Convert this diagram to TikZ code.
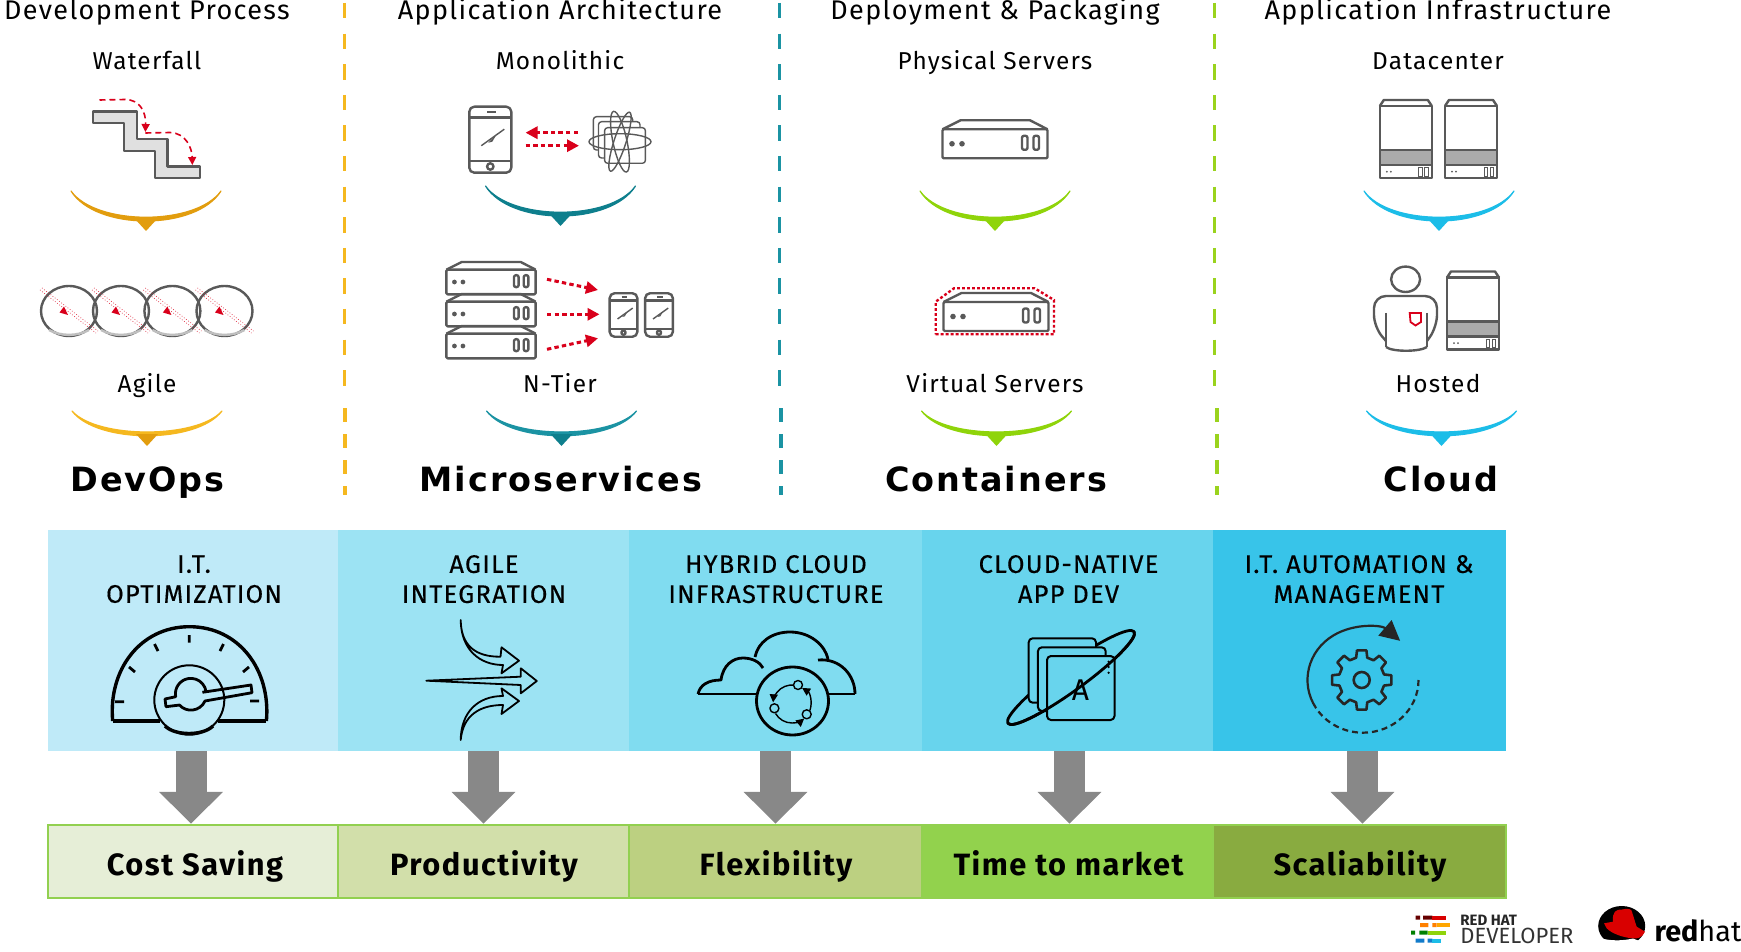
\documentclass[tikz,border=0pt]{standalone}
\usepackage{fontspec}
\usetikzlibrary{arrows.meta}
\setmainfont{Fira Sans}
\newfontfamily\headfont[LetterSpace=5]{Fira Sans}
\newfontfamily\bandfont[LetterSpace=5,FakeBold=0.4]{Fira Sans}
\newfontfamily\widefont[LetterSpace=6]{DejaVu Sans}
\definecolor{orangeA}{HTML}{F5B81F}
\definecolor{orangeB}{HTML}{E29D0E}
\definecolor{tealA}{HTML}{0E7F8D}
\definecolor{tealB}{HTML}{1B93A3}
\definecolor{limeA}{HTML}{8FD40A}
\definecolor{limeB}{HTML}{9AD31D}
\definecolor{skyA}{HTML}{1CBDE8}
\definecolor{bandA}{HTML}{BFEAF8}
\definecolor{bandB}{HTML}{9CE3F3}
\definecolor{bandC}{HTML}{80DCF0}
\definecolor{bandD}{HTML}{68D4ED}
\definecolor{bandE}{HTML}{38C4E9}
\definecolor{gainA}{HTML}{E6EED7}
\definecolor{gainB}{HTML}{D2DFAA}
\definecolor{gainC}{HTML}{BCD081}
\definecolor{gainD}{HTML}{92D24D}
\definecolor{gainE}{HTML}{89AB40}
\definecolor{gainline}{HTML}{92D050}
\definecolor{icongray}{HTML}{595959}
\definecolor{arrowgray}{HTML}{888888}
\definecolor{arrowred}{HTML}{D9001B}
\tikzset{
  titlelabel/.style={font=\headfont\fontsize{13.5}{15}\selectfont, anchor=base, inner sep=0pt, text=black},
  sublabel/.style={font=\headfont\fontsize{12.2}{15}\selectfont, anchor=base, inner sep=0pt, text=black},
  biglabel/.style={font=\widefont\bfseries\fontsize{16.7}{20}\selectfont, anchor=base, inner sep=0pt, text=black},
  bandlabel/.style={font=\bandfont\fontsize{12.7}{15}\selectfont, align=center, inner sep=0pt, text depth=0pt, text=black},
  bandbox/.style={rectangle, inner sep=0pt, minimum width=#1*0.5pt, minimum height=110.5pt},
  gainbox/.style={rectangle, draw=gainline, line width=1.2pt, inner sep=0pt, minimum width=#1*0.5pt, minimum height=36.4pt},
  gainlabel/.style={font=\headfont\bfseries\fontsize{15.4}{18}\selectfont, anchor=base, inner sep=0pt, text=black},
  bigarrow/.style={draw=arrowgray, line width=15.5pt, -{Triangle[width=31pt,length=16pt]}},
  icon/.style={draw=icongray, line width=1.2pt, line join=round},
  thinicon/.style={draw=icongray, line width=.7pt},
  blackicon/.style={draw=black, line width=1.4pt, line join=round},
  reddash/.style={draw=arrowred, line width=1.5pt, dash pattern=on 2.2pt off 1.6pt, -{Triangle[width=6pt,length=6pt]}},
  pics/cup/.style n args={4}{code={
    \filldraw[#1, line width=.6pt, line join=round] (-75,0) .. controls (-50,#3) and (50,#3) .. (75,0) .. controls (50,#3+5) and (-50,#3+5) .. cycle;
    \fill[#2] (-11,#4-1) -- (11,#4-1) -- (0,#4+11) -- cycle;
  }},
  server/.pic={
    \draw[icon] (-52.5,-14.5) -- (-34.5,-23.5) -- (35,-23.5) -- (52.5,-14.5);
    \draw[icon, rounded corners=.6pt] (-52.5,-14.5) rectangle (52.5,14.5);
    \fill[icongray] (-43,0) circle (2.8) (-33,0) circle (2.8);
    \draw[icon, rounded corners=1pt] (27,-8) rectangle (32.5,6) (38.5,-8) rectangle (44,6);
  },
  tower/.pic={
    \draw[icon] (-26,-36) -- (-22,-42) -- (22,-42) -- (26,-36);
    \draw[icon, fill=white] (-26,-36) rectangle (26,36);
    \draw[icon, fill=black!33] (-26,8) rectangle (26,23);
    \fill[icongray] (-19,29.7) circle (1) (-15,29.7) circle (1);
    \draw[draw=icongray, line width=.4pt] (13,25.5) rectangle (16.5,34) (19,25.5) rectangle (22.5,34);
  },
  phone/.pic={
    \draw[icon, rounded corners=2.5pt] (-21,-33) rectangle (21,33);
    \draw[icon] (-21,-22) -- (21,-22) (-21,21.5) -- (21,21.5);
    \draw[icon] (0,26.8) circle (3.2);
    \draw[icon] (-3,-27.5) -- (6,-27.5);
    \draw[thinicon] (-9,6) -- (14,-10.5);
    \fill[icongray] (-2,3) -- (7,-6.5) -- (2,2) -- cycle;
  },
  loopring/.pic={
    \draw[icon] (-28,0) arc[start angle=180, end angle=-180, x radius=28, y radius=25];
    \draw[draw=black!25, line width=1.2pt] (-20,19) .. controls (-8,25.5) and (8,25.5) .. (20,19);
    \draw[draw=arrowred!85, line width=.35pt, densely dotted] (-29,-21) -- (27,22) (-27,-23) -- (29,20);
    \fill[arrowred] (-9.5,1.5) -- (-5,-4.5) -- (-1,4) -- cycle;
  },
}
\begin{document}
\begin{tikzpicture}[x=.5pt, y=-.5pt]
\useasboundingbox (0,0) rectangle (1741,952);
\fill[white] (0,0) rectangle (1741,952);
\node[titlelabel] (devproc) at (147,19.5) {Development Process};
\node[titlelabel] (apparch) at (560,19.5) {Application Architecture};
\node[titlelabel] (deploy) at (995,19.5) {Deployment \& Packaging};
\node[titlelabel] (appinfra) at (1438,19.5) {Application Infrastructure};
\node[sublabel] (waterfall) at (147,70) {Waterfall};
\node[sublabel] (monolith) at (560,70) {Monolithic};
\node[sublabel] (physical) at (995,70) {Physical Servers};
\node[sublabel] (datacenter) at (1438,70) {Datacenter};
\node[sublabel] (agile) at (147,393) {Agile};
\node[sublabel] (ntier) at (560,393) {N-Tier};
\node[sublabel] (virtual) at (995,393) {Virtual Servers};
\node[sublabel] (hosted) at (1438,393) {Hosted};
\node[biglabel] (devops) at (147.5,491) {DevOps};
\node[biglabel] (micro) at (561,491) {Microservices};
\node[biglabel] (contain) at (996,491) {Containers};
\node[biglabel] (cloud) at (1441,491) {Cloud};
\draw[orangeA, line width=1.8pt, dash pattern=on 7.7pt off 7.6pt] (344.5,3) -- (344.5,390);
\draw[orangeA, line width=1.8pt, dash pattern=on 7pt off 6pt] (345,408) -- (345,495);
\draw[tealB, line width=1.8pt, dash pattern=on 7.7pt off 7.6pt] (779.5,3) -- (779.5,390);
\draw[tealB, line width=1.8pt, dash pattern=on 7pt off 6pt] (781,408) -- (781,495);
\draw[limeB, line width=1.8pt, dash pattern=on 7.7pt off 7.6pt] (1214.5,3) -- (1214.5,390);
\draw[limeB, line width=1.8pt, dash pattern=on 7pt off 6pt] (1217,408) -- (1217,495);
\pic at (146,191) {cup={orangeB}{orangeB}{35}{29}};
\pic at (560.5,186) {cup={tealA}{tealA}{35}{29}};
\pic at (995,191) {cup={limeA}{limeA}{35}{29}};
\pic at (1439,191) {cup={skyA}{skyA}{35}{29}};
\pic at (147,411) {cup={orangeA}{orangeB}{28}{24}};
\pic at (561.5,411) {cup={tealB}{tealA}{28}{24}};
\pic at (996.5,411) {cup={limeA}{limeA}{28}{24}};
\pic at (1441.5,411) {cup={skyA}{skyA}{28}{24}};
\draw[icon, fill=black!12] (92.9,111.7) -- (136.7,111.7) -- (136.7,139.3) -- (167.3,139.3) -- (167.3,166.7) -- (200,166.7) -- (200,178.3) -- (155.1,178.3) -- (155.1,151) -- (124,151) -- (124,123.3) -- (92.9,123.3) -- cycle;
\draw[arrowred, line width=.8pt, dash pattern=on 3pt off 2pt, -{Triangle[width=4pt,length=4pt]}] (99.5,100) -- (125,99.5) .. controls (140,99.5) and (146,112) .. (145.4,132);
\draw[arrowred, line width=.8pt, dash pattern=on 3pt off 2pt, -{Triangle[width=4pt,length=4pt]}] (145.4,133) -- (170,132.5) .. controls (186,133) and (192,148) .. (192.3,165);
\pic at (69,311) {loopring};
\pic at (121,311) {loopring};
\pic at (172.4,311) {loopring};
\pic at (224.5,311) {loopring};
\pic at (490.3,139.7) {phone};
\draw[reddash] (578,132.7) -- (525.5,132.7);
\draw[reddash] (525.5,145.7) -- (579,145.7);
\draw[thinicon, rounded corners=1.5pt] (593.4,116.7) rectangle (632.7,150);
\draw[thinicon, rounded corners=1.5pt, fill=white] (598.5,121.7) rectangle (640,158);
\draw[thinicon, rounded corners=1.5pt, fill=white] (604.6,127.7) rectangle (645.4,163.3);
\draw[thinicon] (620,141.7) ellipse [x radius=31, y radius=8];
\draw[thinicon, rotate around={-18:(620,141.7)}] (620,141.7) ellipse [x radius=6, y radius=31];
\draw[thinicon, rotate around={12:(620,141.7)}] (620,141.7) ellipse [x radius=7, y radius=31];
\pic[scale=.85] at (491,346) {server};
\pic[scale=.85] at (491,314) {server};
\pic[scale=.85] at (491,282) {server};
\draw[reddash] (547,279.3) -- (598,290);
\draw[reddash] (547,314.3) -- (599.5,314.3);
\draw[reddash] (547,349.3) -- (598,338.3);
\pic[scale=.66] at (623.5,315) {phone};
\pic[scale=.66] at (659,315) {phone};
\pic at (995,143.8) {server};
\pic at (996,316.5) {server};
\draw[arrowred, line width=1.2pt, dash pattern=on 1.4pt off 1.1pt] (935.7,334.3) -- (1054,334.3) -- (1054,300) -- (1034.7,288.3) -- (954,288.3) -- (935.7,301.7) -- cycle;
\pic at (1405.8,142) {tower};
\pic at (1471,142) {tower};
\pic at (1473,313.5) {tower};
\draw[icon] (1405.6,279.3) ellipse [x radius=14.5, y radius=12.7];
\draw[icon] (1386,347) .. controls (1392,352) and (1420,352) .. (1427,347);
\draw[icon] (1386,313) -- (1386,347) (1427,313) -- (1427,347);
\draw[icon, rounded corners=6pt] (1386,341) -- (1374,327) -- (1374,296) -- (1437,296) -- (1437,327) -- (1427,341);
\draw[arrowred, line width=.9pt, fill=white] (1409.7,313) -- (1421,313) -- (1421,322) -- (1415.5,325.5) -- (1410.5,322) -- cycle;
\node[bandbox=290, fill=bandA] (itopt) at (193,640.5) {};
\node[bandbox=291, fill=bandB] (agint) at (483.5,640.5) {};
\node[bandbox=293, fill=bandC] (hybrid) at (775.5,640.5) {};
\node[bandbox=291, fill=bandD] (native) at (1067.5,640.5) {};
\node[bandbox=293, fill=bandE] (autom) at (1359.5,640.5) {};
\node[bandlabel] (itopttxt) at (194,579) {I.T.\\OPTIMIZATION};
\node[bandlabel] (aginttxt) at (484,579) {AGILE\\INTEGRATION};
\node[bandlabel] (hybridtxt) at (776,579) {HYBRID CLOUD\\INFRASTRUCTURE};
\node[bandlabel] (nativetxt) at (1068.5,579) {CLOUD-NATIVE\\APP DEV};
\node[bandlabel] (automtxt) at (1359,579) {I.T. AUTOMATION \&\\MANAGEMENT};
\draw[blackicon, line width=1.7pt] (112.7,721) .. controls (108,670) and (140,626.7) .. (189.5,626.7) .. controls (239,626.7) and (271,670) .. (266.4,721);
\draw[blackicon, line width=1.7pt] (112.7,721) -- (160,721) (218,721) -- (266.4,721);
\draw[blackicon, line width=1pt] (189.3,700) ellipse [x radius=35, y radius=34.7];
\draw[blackicon, line width=1.7pt] (165,726) .. controls (175,736) and (203,736) .. (213,726);
\draw[blackicon] (202.4,692.3) -- (251,685) -- (252,692.7) -- (205,701) arc[start angle=24, end angle=138, radius=15.4] -- (166,706.7) -- (165,699) -- (175.7,696.7) arc[start angle=169, end angle=352.6, radius=15.4];
\draw[blackicon] (115,701.7) -- (124,701.7) (250,701) -- (259,701) (129,667) -- (135,672) (243,672) -- (249,667) (154.5,644) -- (158,651) (220,651) -- (223.5,644) (189.3,635) -- (189.3,642.7);
\draw[blackicon, line width=.9pt] (460.7,620) .. controls (461,645) and (475,657) .. (500.5,656.7) -- (501.5,647.3) -- (519,660.7) -- (501.5,673.3) -- (503,665) .. controls (480,665) and (461,650) .. cycle;
\draw[blackicon, line width=.9pt] (460.7,740) .. controls (461,712) and (478,696) .. (503,696) -- (501.5,688.3) -- (519,701) -- (501.5,714) -- (503,705) .. controls (480,705) and (463,715) .. cycle;
\draw[blackicon, line width=.9pt] (426.3,680.7) -- (520.8,676.7) -- (520.8,668.3) -- (536.8,681) -- (520.8,693.3) -- (520.8,685) -- cycle;
\draw[blackicon] (698,694) .. controls (700,685) and (708,680) .. (721,680) .. controls (723,665) and (733,658) .. (743,658) .. controls (752,658) and (760,662) .. (763,668);
\draw[blackicon] (755,657) .. controls (758,642) and (772,632) .. (790,632) .. controls (810,632) and (825,645) .. (828,659);
\draw[blackicon] (818,660) .. controls (840,658) and (855,675) .. (855,694);
\draw[blackicon] (698,694) -- (756,694) (829,694) -- (855,694);
\draw[blackicon, fill=bandC] (792.5,701) ellipse [x radius=36, y radius=34];
\draw[blackicon, line width=.7pt, -{Triangle[width=4pt,length=4pt]}] (792,704) ++(278:19) arc[start angle=278, end angle=185, radius=19];
\draw[blackicon, line width=.7pt, -{Triangle[width=4pt,length=4pt]}] (792,704) ++(150:19) arc[start angle=150, end angle=50, radius=19];
\draw[blackicon, line width=.7pt, -{Triangle[width=4pt,length=4pt]}] (792,704) ++(20:19) arc[start angle=20, end angle=-58, radius=19];
\draw[blackicon, line width=.7pt, fill=bandC] (774.4,708.3) circle (4.5) (798,685) circle (4.5) (806.7,714.3) circle (4.5);
\draw[blackicon, rotate around={36:(1071,677.5)}] (1071,677.5) ellipse [x radius=78, y radius=13];
\draw[blackicon, line width=1pt, fill=bandD, rounded corners=2pt] (1028.7,638.3) rectangle (1096,702.7);
\draw[blackicon, line width=1pt, fill=bandD, rounded corners=2pt] (1037.9,647.3) rectangle (1105.7,711);
\draw[blackicon, line width=1pt, fill=bandD, rounded corners=2pt] (1047,656) rectangle (1114.5,720);
\node[font=\fontsize{15}{16}\selectfont, inner sep=0pt] (appletter) at (1080.5,690) {A};
\fill[black] (1108.6,661.7) circle (1.3) (1108.6,667) circle (1.3) (1108.6,672.7) circle (1.3);
\begin{scope}[shift={(1071,677.5)}, rotate=36]
\draw[blackicon] (-78,0) arc[start angle=180, end angle=0, x radius=78, y radius=13];
\end{scope}
\draw[draw=black!85, line width=1.1pt, -{Triangle[width=10pt,length=10pt]}] (1363,680) ++(148:55.5 and 52.7) arc[start angle=148, end angle=312, x radius=55.5, y radius=52.7];
\draw[draw=black!85, line width=1.1pt, dash pattern=on 3pt off 2pt] (1363,680) ++(0:55.5 and 52.7) arc[start angle=0, end angle=148, x radius=55.5, y radius=52.7];
\begin{scope}[shift={(1361.7,680)}]
\draw[draw=black!85, line width=1.3pt, line join=round] (-14:23) \foreach \a in {0,45,...,315} { -- ({\a-9}:30) -- ({\a+9}:30) -- ({\a+14}:23) -- ({\a+31}:23) } -- cycle;
\draw[draw=black!85, line width=1.3pt] (0,0) circle (8);
\end{scope}
\node[gainbox=290, fill=gainA] (cost) at (193,861.4) {};
\node[gainbox=291, fill=gainB] (prod) at (483.5,861.4) {};
\node[gainbox=293, fill=gainC] (flex) at (775.5,861.4) {};
\node[gainbox=291, fill=gainD] (time) at (1067.5,861.4) {};
\node[gainbox=293, fill=gainE] (scale) at (1359.5,861.4) {};
\node[gainlabel] (costtxt) at (195,875) {Cost Saving};
\node[gainlabel] (prodtxt) at (484,875) {Productivity};
\node[gainlabel] (flextxt) at (776,875) {Flexibility};
\node[gainlabel] (timetxt) at (1068.5,875) {Time to market};
\node[gainlabel] (scaletxt) at (1360,875) {Scaliability};
\draw[bigarrow] ([xshift=-1pt]itopt.south) -- ([xshift=-1pt]cost.north);
\draw[bigarrow] (agint.south) -- (prod.north);
\draw[bigarrow] (hybrid.south) -- (flex.north);
\draw[bigarrow] ([xshift=1pt]native.south) -- ([xshift=1pt]time.north);
\draw[bigarrow] ([xshift=1.5pt]autom.south) -- ([xshift=1.5pt]scale.north);
\fill[black!60!red] (1415.7,915.7) rectangle (1420,919.7) (1423,915.7) rectangle (1432.3,919.7);
\fill[red!85!black] (1432.3,915.7) rectangle (1445.7,919.7);
\fill[orange] (1420,923) rectangle (1428.3,927) (1432.3,923) rectangle (1436.7,927);
\fill[orange!70!yellow] (1436.7,923) rectangle (1450,927);
\fill[green!50!black] (1411,930.7) rectangle (1415,934.7) (1419.3,930.7) rectangle (1427.7,934.7);
\fill[limeA] (1427.7,930.7) rectangle (1445.7,934.7);
\fill[cyan!60!blue] (1415.7,938.7) rectangle (1424.3,942.7) (1427.7,938.7) rectangle (1432.3,942.7);
\fill[skyA] (1432.3,938.7) rectangle (1441,942.7);
\node[font=\bfseries\fontsize{7.5}{8}\selectfont, anchor=west, inner sep=0pt, text=black!85] (rhtxt) at (1460,920) {RED HAT};
\node[font=\fontsize{11}{12}\selectfont, anchor=west, inner sep=0pt, text=black!80] (devtxt) at (1460,935.7) {DEVELOPER};
\fill[black] (1621.7,926) ellipse [x radius=23.5, y radius=20];
\fill[red!85!black] (1604,923.3) -- (1613,921.7) .. controls (1612,912) and (1616,909) .. (1622,909.5) .. controls (1628,908) and (1632,909) .. (1632,912) .. controls (1634,918) and (1635,922) .. (1636.7,926.7) -- (1645,931.7) .. controls (1642,938) and (1637,939) .. (1633,938.3) .. controls (1625,938) and (1612,934) .. (1606.7,928.3) -- cycle;
\fill[white] (1600,938) .. controls (1610,941) and (1622,941) .. (1633,938.5) -- (1642,942) .. controls (1635,950) and (1610,950) .. (1600,942) -- cycle;
\node[font=\fontsize{14.4}{17}\selectfont, inner sep=0pt, text=black] (rhname) at (1698,931) {\textbf{red}hat};
\end{tikzpicture}
\end{document}
